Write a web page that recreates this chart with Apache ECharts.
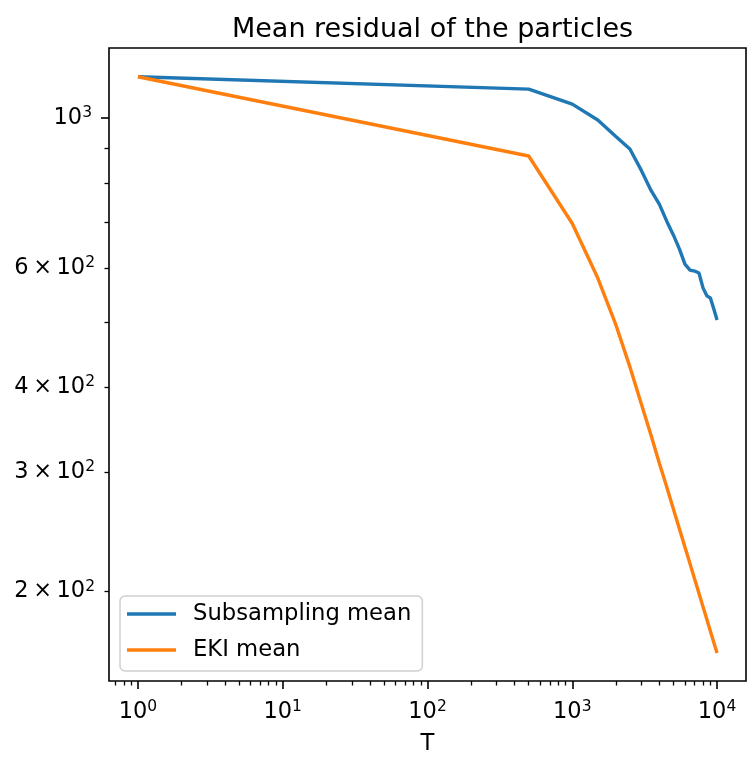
<!DOCTYPE html>
<html><head><meta charset="utf-8">
<script src="https://cdn.jsdelivr.net/npm/echarts@6/dist/echarts.min.js"></script>
<style>html,body{margin:0;padding:0;background:#fff}#c{width:747px;height:761px}</style>
</head><body><div id="c"></div>
<script>
const T = [1, 500, 1000, 1500, 2000, 2500, 3000, 3500, 4000, 4500, 5000, 5500, 6000, 6500, 7000, 7500, 8000, 8500, 9000, 9500, 10000];
const subsamplingMean = [1149, 1102, 1047, 992, 938, 899, 836, 781, 745, 703, 671, 640, 608, 596, 594, 590, 561, 546, 542, 522, 503];
const ekiMean = [1149, 878, 698, 580, 495, 429, 378, 340, 309, 285, 264.5, 247.4, 232.6, 219.9, 208.7, 198.9, 190, 182, 174.7, 168.2, 162.3];

const xMajorTicks = [1, 10, 100, 1000, 10000];
const xMinorTicks = [0.7, 0.8, 0.9, 2, 3, 4, 5, 6, 7, 8, 9, 20, 30, 40, 50, 60, 70, 80, 90,
  200, 300, 400, 500, 600, 700, 800, 900, 2000, 3000, 4000, 5000, 6000, 7000, 8000, 9000];
const yMajorTicks = [1000];
const yMinorTicks = [200, 300, 400, 500, 600, 700, 800, 900];
const yMinorLabelTicks = [200, 300, 400, 600];

const FONT = 'DejaVu Sans';
const FS = 22.5;
const rich = {
  b: {fontFamily: FONT, fontSize: FS, lineHeight: 24, color: '#000'},
  s: {fontFamily: FONT, fontSize: 15.5, lineHeight: 16, padding: [0, 0, 10, 0], color: '#000'}
};
function fmtPow(v) {
  const e = Math.round(Math.log10(v));
  return '{b|10}{s|' + e + '}';
}
function fmtY(v) {
  const e = Math.floor(Math.log10(v) + 1e-9);
  const m = Math.round(v / Math.pow(10, e));
  if (m === 1) return '{b|10}{s|' + e + '}';
  return '{b|' + m + '\u2009\u00d7\u200910}{s|' + e + '}';
}

const xMin = Math.pow(10, -0.2), xMax = Math.pow(10, 4.2);
const yMin = 147.6, yMax = 1267;

const chart = echarts.init(document.getElementById('c'), null, {renderer: 'canvas'});
chart.setOption({
  animation: false,
  backgroundColor: '#fff',
  title: {
    text: 'Mean residual of the particles',
    left: 427.5, textAlign: 'center', top: 10,
    textStyle: {fontFamily: FONT, fontSize: 27, fontWeight: 'normal', color: '#000', lineHeight: 30}
  },
  grid: {left: 109, right: 1, top: 48, bottom: 79, show: true, borderColor: '#000', borderWidth: 1.6, backgroundColor: 'transparent', containLabel: false},
  legend: {
    orient: 'vertical', left: 120, top: 596,
    padding: [5, 11, 8, 7], itemGap: 10,
    icon: 'rect', itemWidth: 49, itemHeight: 3.4,
    backgroundColor: '#fff', borderColor: '#d0d0d0', borderWidth: 1.5, borderRadius: 5,
    textStyle: {fontFamily: FONT, fontSize: 22.7, color: '#000', padding: [0, 0, 0, 12], lineHeight: 26},
    data: ['Subsampling mean', 'EKI mean']
  },
  xAxis: [
    {
      type: 'log', logBase: 10, min: xMin, max: xMax, position: 'bottom',
      name: 'T', nameLocation: 'middle', nameGap: 52,
      nameTextStyle: {fontFamily: FONT, fontSize: 22.7, color: '#000'},
      axisLine: {show: false},
      axisTick: {show: true, inside: false, length: 8, lineStyle: {color: '#000', width: 1.6}, customValues: xMajorTicks},
      axisLabel: {show: true, margin: 19, customValues: xMajorTicks, formatter: fmtPow, rich: rich},
      splitLine: {show: false}, minorTick: {show: false}
    },
    {
      type: 'log', logBase: 10, min: xMin, max: xMax, position: 'bottom',
      axisLine: {show: false},
      axisTick: {show: true, inside: false, length: 4.5, lineStyle: {color: '#000', width: 1.3}, customValues: xMinorTicks},
      axisLabel: {show: false},
      splitLine: {show: false}
    }
  ],
  yAxis: [
    {
      type: 'log', logBase: 10, min: yMin, max: yMax, position: 'left',
      axisLine: {show: false},
      axisTick: {show: true, inside: false, length: 8, lineStyle: {color: '#000', width: 1.6}, customValues: yMajorTicks},
      axisLabel: {show: true, margin: 17, customValues: yMajorTicks, formatter: fmtY, rich: rich},
      splitLine: {show: false}
    },
    {
      type: 'log', logBase: 10, min: yMin, max: yMax, position: 'left',
      axisLine: {show: false},
      axisTick: {show: true, inside: false, length: 4.5, lineStyle: {color: '#000', width: 1.3}, customValues: yMinorTicks},
      axisLabel: {show: true, margin: 14, customValues: yMinorLabelTicks, formatter: fmtY, rich: rich},
      splitLine: {show: false}
    }
  ],
  series: [
    {
      name: 'Subsampling mean', type: 'line', xAxisIndex: 0, yAxisIndex: 0,
      data: T.map((t, i) => [t, subsamplingMean[i]]),
      symbol: 'none', showSymbol: false,
      lineStyle: {color: '#1f77b4', width: 3.4}, itemStyle: {color: '#1f77b4'}
    },
    {
      name: 'EKI mean', type: 'line', xAxisIndex: 0, yAxisIndex: 0,
      data: T.map((t, i) => [t, ekiMean[i]]),
      symbol: 'none', showSymbol: false,
      lineStyle: {color: '#ff7f0e', width: 3.4}, itemStyle: {color: '#ff7f0e'}
    }
  ]
});
</script>
</body></html>
